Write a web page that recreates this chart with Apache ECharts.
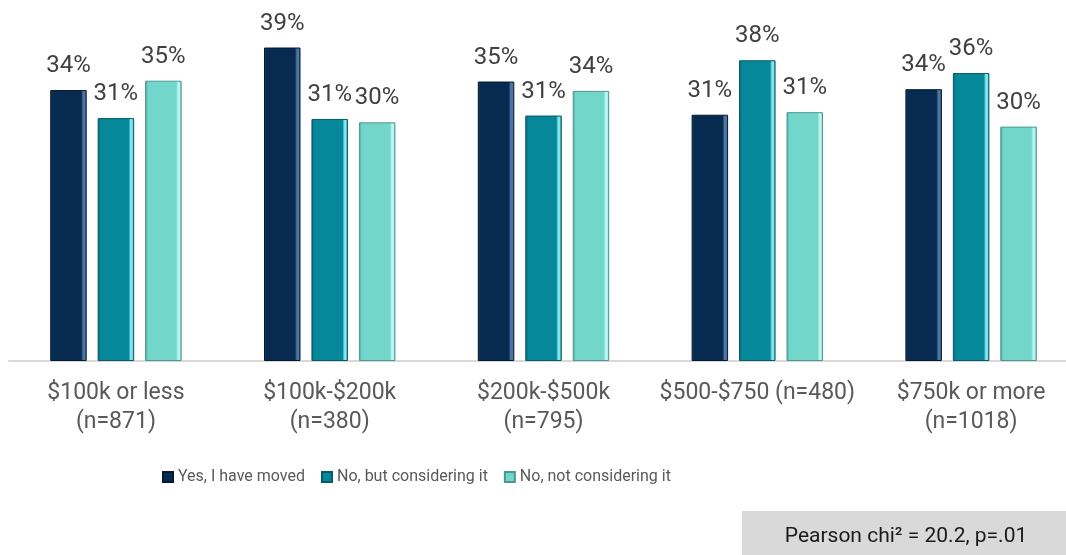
<!DOCTYPE html>
<html>
<head>
<meta charset="utf-8">
<script src="https://cdn.jsdelivr.net/npm/echarts@6/dist/echarts.min.js"></script>
<style>
  html, body { margin: 0; padding: 0; background: #fff; }
  #chart { width: 1066px; height: 555px; }
</style>
</head>
<body>
<div id="chart"></div>
<script>
// categories and series values (% of respondents)
var categories = [
  "$100k or less\n(n=871)",
  "$100k-$200k\n(n=380)",
  "$200k-$500k\n(n=795)",
  "$500-$750 (n=480)",
  "$750k or more\n(n=1018)"
];
var seriesNames = ["Yes, I have moved", "No, but considering it", "No, not considering it"];
var moved = [34.0, 39.0, 35.0, 31.1, 34.1];
var considering = [30.7, 30.6, 31.0, 37.5, 36.0];
var notConsidering = [35.1, 30.2, 33.9, 31.4, 29.7];

// bevel-ish fill: dark left edge, light stripe on the right
function bevel(edge, base, light) {
  return new echarts.graphic.LinearGradient(0, 0, 1, 0, [
    { offset: 0, color: edge },
    { offset: 0.08, color: base },
    { offset: 0.85, color: base },
    { offset: 0.9, color: light },
    { offset: 0.95, color: light },
    { offset: 1, color: edge }
  ]);
}

var fills = [
  { fill: bevel("#1d3a5c", "#062a50", "#4f76a3"), border: "#031a33" },
  { fill: bevel("#04606c", "#07889a", "#7fe6ef"), border: "#045a66" },
  { fill: bevel("#4f9e95", "#72d6cb", "#b9f5f0"), border: "#4c9890" }
];

var values = [moved, considering, notConsidering];

var chart = echarts.init(document.getElementById("chart"));
chart.setOption({
  animation: false,
  grid: {
    left: 9,
    right: -12,
    top: 5,
    bottom: 194.5,
    containLabel: false,
    outerBoundsMode: "none"
  },
  legend: {
    data: seriesNames,
    left: 157,
    top: 464,
    icon: "rect",
    itemWidth: 10,
    itemHeight: 10,
    itemGap: 16,
    textStyle: {
      color: "#595959",
      fontSize: 16,
      fontFamily: "Roboto, sans-serif"
    }
  },
  xAxis: {
    type: "category",
    data: categories,
    axisTick: { show: false },
    axisLine: { lineStyle: { color: "#d9d9d9", width: 2 } }, // 底部浅灰轴线
    axisLabel: {
      color: "#595959",
      fontSize: 23,
      fontFamily: "Roboto, sans-serif",
      lineHeight: 29,
      margin: 18,
      interval: 0
    },
    splitLine: { show: false }
  },
  yAxis: {
    type: "value",
    min: 2.2,
    max: 44,
    show: false,
    splitLine: { show: false }
  },
  series: values.map(function (data, i) {
    return {
      name: seriesNames[i],
      type: "bar",
      data: data,
      barWidth: 36.5,
      barGap: "30%",
      clip: true,
      itemStyle: {
        color: fills[i].fill,
        borderColor: fills[i].border,
        borderWidth: 1
      },
      label: {
        show: true,
        position: "top",
        distance: 12,
        color: "#404040",
        fontSize: 24,
        fontFamily: "Roboto, sans-serif",
        formatter: function (p) {
          return Math.round(p.value) + "%";
        }
      }
    };
  }),
  graphic: [
    {
      type: "rect",
      left: 742,
      top: 511,
      shape: { width: 324, height: 44 },
      style: { fill: "#d9d9d9" }
    },
    {
      type: "text",
      x: 906,
      y: 537,
      style: {
        text: "Pearson chi\u00b2 = 20.2, p=.01",
        fill: "#1a1a1a",
        fontSize: 21,
        fontFamily: "Roboto, sans-serif",
        align: "center",
        verticalAlign: "middle"
      }
    }
  ]
});
</script>
</body>
</html>
